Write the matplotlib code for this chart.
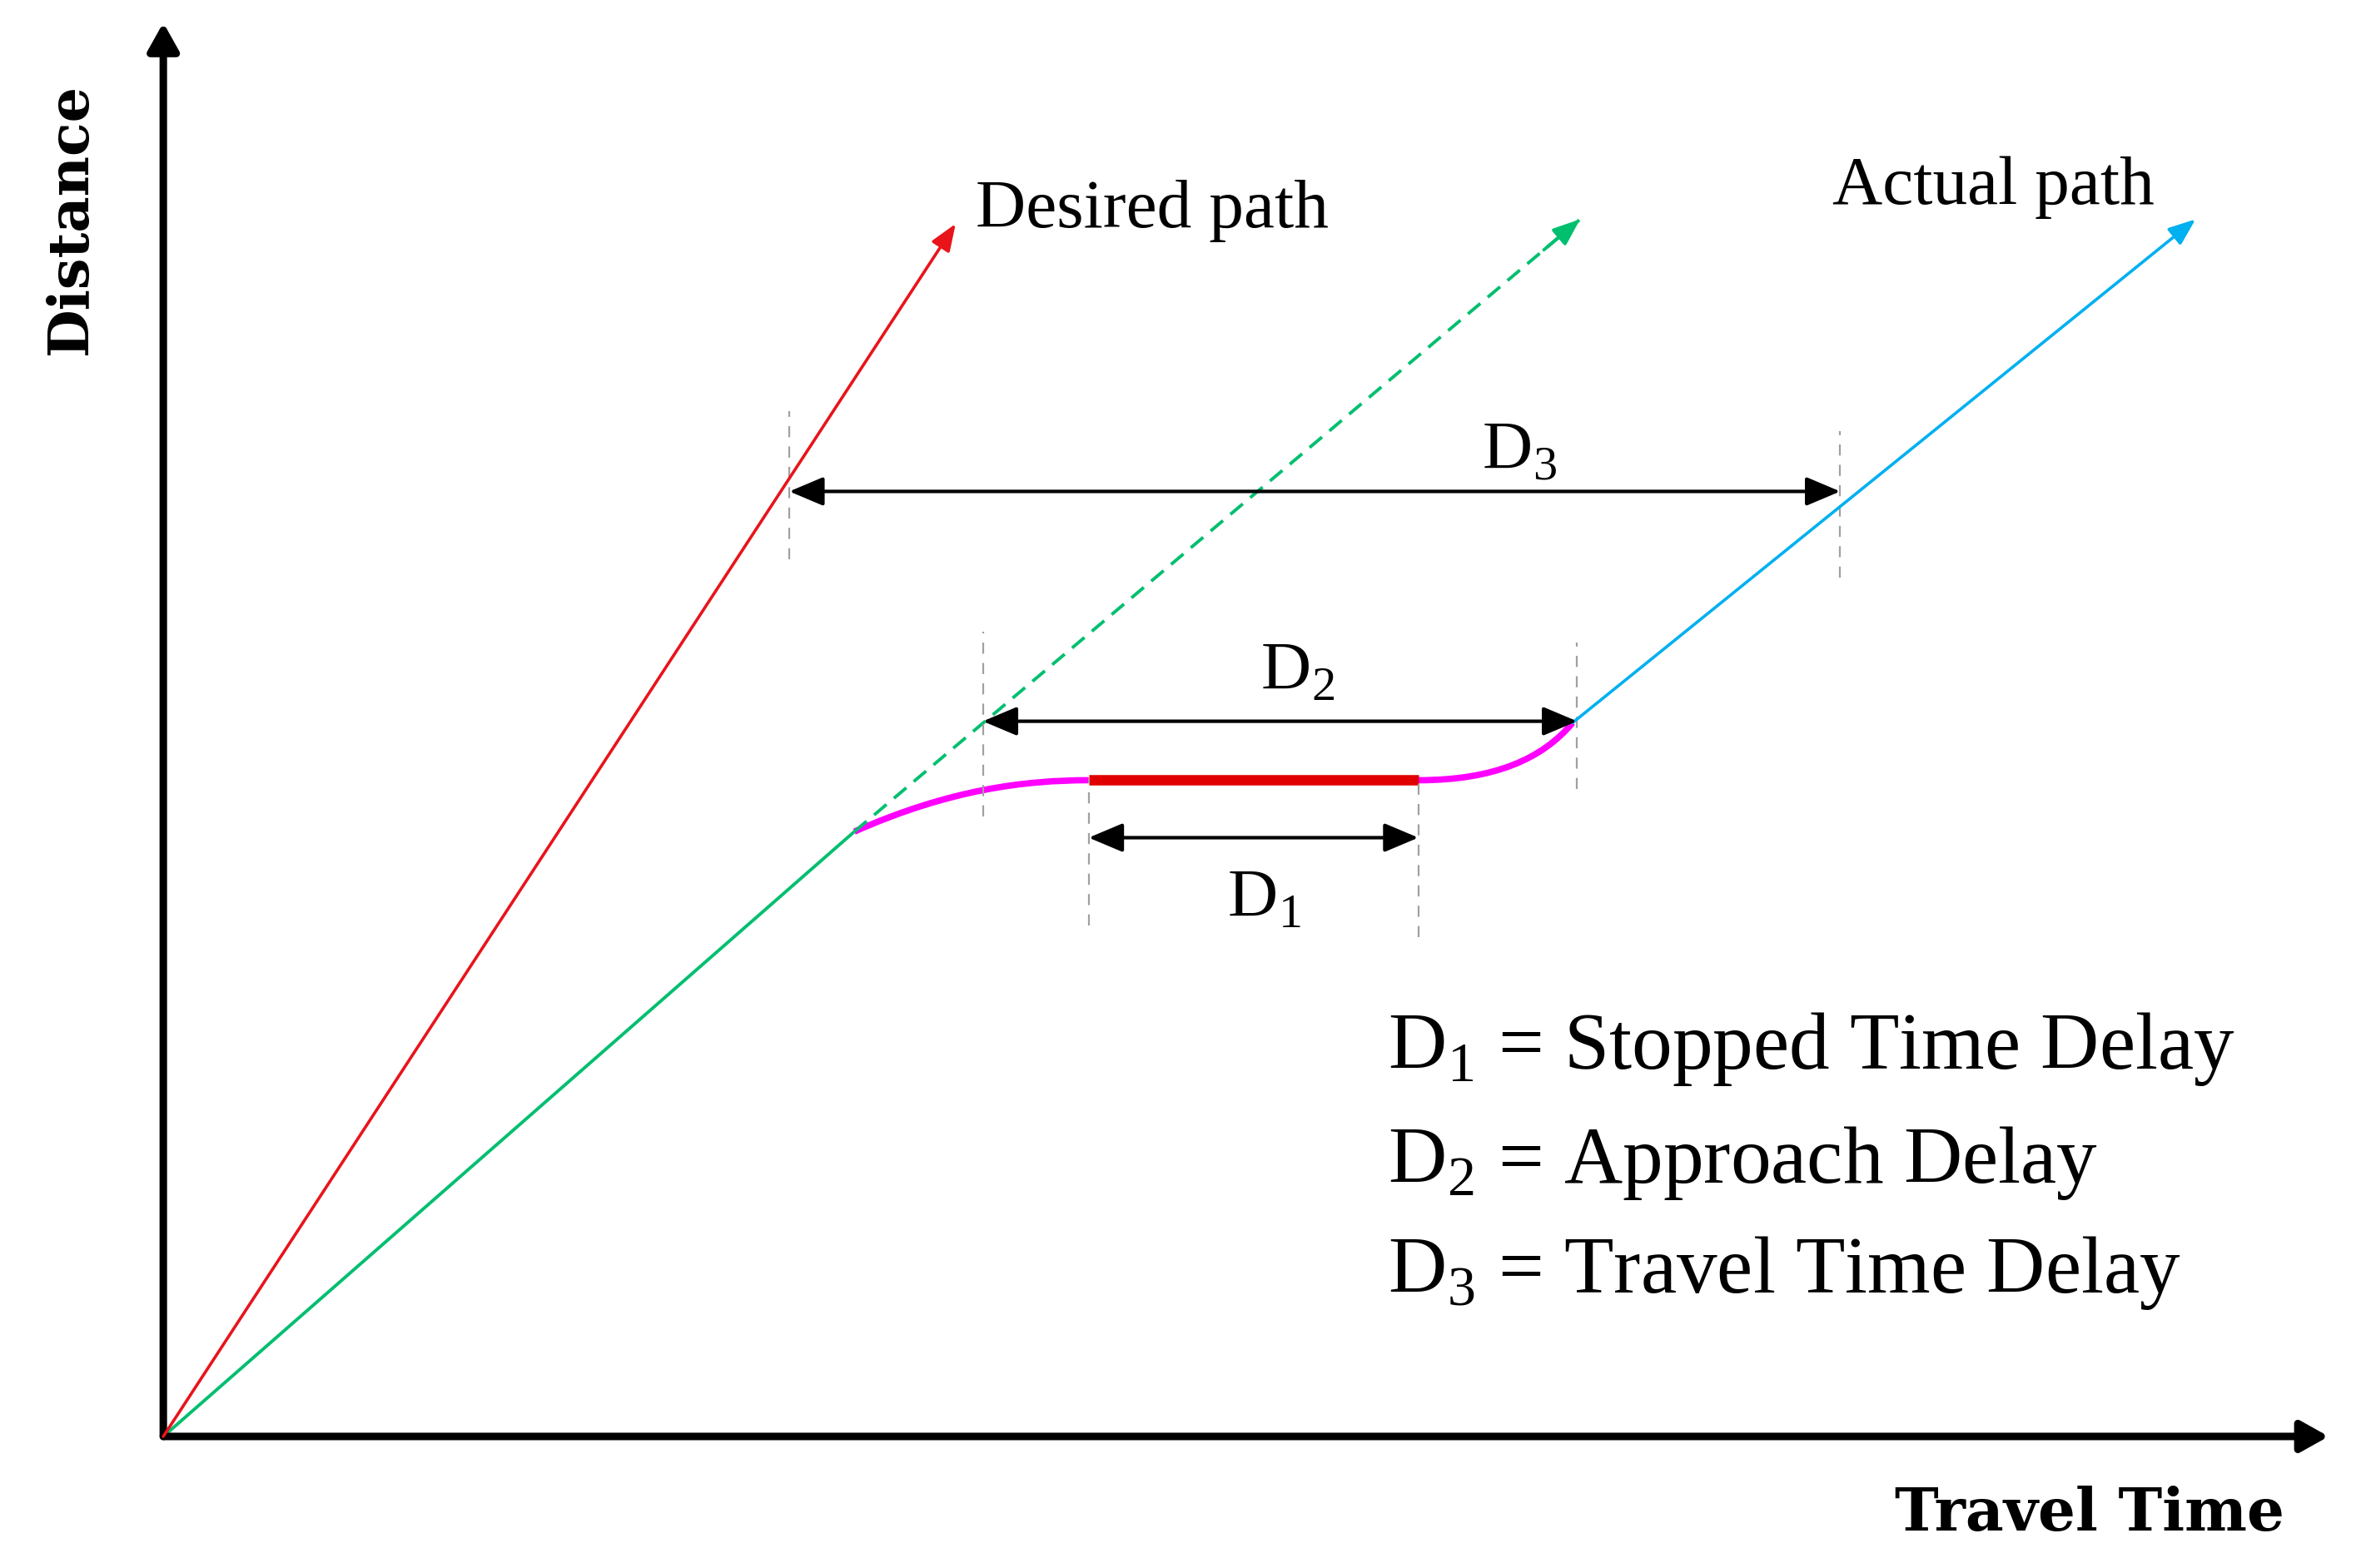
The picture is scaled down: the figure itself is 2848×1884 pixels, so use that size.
import matplotlib
matplotlib.use('Agg')
import matplotlib.pyplot as plt
from matplotlib.path import Path
from matplotlib.patches import PathPatch

plt.rcParams['font.family'] = 'Liberation Serif'
plt.rcParams['mathtext.fontset'] = 'custom'
plt.rcParams['mathtext.rm'] = 'Liberation Serif'

# diagram units: travel time on x, distance on y
axis_end_x = 1432
axis_end_y = 935

desired_x = [0, 524]
desired_y = [0, 802]

approach_x = [0, 457]
approach_y = [0, 400]

free_flow_x = [457, 937]
free_flow_y = [400, 805]

decel_x = [457, 520, 570, 612]
decel_y = [400, 428, 434, 434]

stopped_x = [612, 830]
stopped_y = [434, 434]

accel_x = [830, 880, 912, 932]
accel_y = [434, 434, 448, 472]

actual_x = [932, 1344]
actual_y = [472, 805]

# delay measures
delay_names = ['D$_3$', 'D$_2$', 'D$_1$']
delay_x0 = [414, 542, 612]
delay_x1 = [1109, 935, 830]
delay_y = [625, 473, 396]
delay_label_x = [897, 750, 728]
delay_label_y = [640, 494, 344]
# vertical guide lines
guide_x = [414, 1109, 542, 935, 612, 830]
guide_y0 = [580, 568, 410, 428, 338, 330]
guide_y1 = [678, 665, 532, 525, 434, 434]

legend_lines = ['D$_1$ = Stopped Time Delay',
                'D$_2$ = Approach Delay',
                'D$_3$ = Travel Time Delay']
legend_y = [243, 168, 95]

red = '#e8141a'
green = '#00bf6f'
cyan = '#00b0f0'
magenta = '#ff00ff'

fig = plt.figure(figsize=(28.48, 18.84), dpi=100)
ax = fig.add_axes([0, 0, 1, 1])
ax.set_xlim(-108, 1460)
ax.set_ylim(-87, 950)
ax.axis('off')


def head(x0, y0, x1, y1, color, lw, ms=22, style='-|>,head_length=0.9,head_width=0.35', ls='-'):
    ax.annotate('', xy=(x1, y1), xytext=(x0, y0),
                arrowprops=dict(arrowstyle=style, color=color, lw=lw, ls=ls,
                                mutation_scale=ms, shrinkA=0, shrinkB=0))


# axes
head(0, 0, 0, axis_end_y, 'black', 6.5, ms=40, style='-|>,head_length=0.5,head_width=0.28')
head(0, 0, axis_end_x, 0, 'black', 6.5, ms=40, style='-|>,head_length=0.5,head_width=0.28')

# desired path
head(desired_x[0], desired_y[0], desired_x[1], desired_y[1], red, 2.6)

# approach (solid) then free-flow continuation (dashed)
ax.plot(approach_x, approach_y, color=green, lw=2.8, solid_capstyle='butt')
ax.plot(free_flow_x, free_flow_y, color=green, lw=2.8, ls=(0, (5, 3)))
fx, fy = free_flow_x[1], free_flow_y[1]
dx, dy = fx - free_flow_x[0], fy - free_flow_y[0]
head(fx - 0.05 * dx, fy - 0.05 * dy, fx, fy, green, 2.8)

# deceleration / acceleration curves
for xs, ys in [(decel_x, decel_y), (accel_x, accel_y)]:
    verts = list(zip(xs, ys))
    p = Path(verts, [Path.MOVETO, Path.CURVE4, Path.CURVE4, Path.CURVE4])
    ax.add_patch(PathPatch(p, fc='none', ec=magenta, lw=5.5, capstyle='butt'))

# stopped period
ax.plot(stopped_x, stopped_y, color='#e00000', lw=9, solid_capstyle='butt')

# actual path after the stop
head(actual_x[0], actual_y[0], actual_x[1], actual_y[1], cyan, 2.6)

# guides
for gx, a, b in zip(guide_x, guide_y0, guide_y1):
    ax.plot([gx, gx], [a, b], color='#a0a0a0', lw=1.6, ls=(0, (6, 5)))

# delay arrows
for name, a, b, y, tx, ty in zip(delay_names, delay_x0, delay_x1, delay_y,
                                  delay_label_x, delay_label_y):
    head(a, y, b, y, 'black', 3.0, ms=28, style='<|-|>,head_length=0.9,head_width=0.38')
    ax.text(tx, ty, name, fontsize=60, ha='center', va='baseline')

# labels
ax.text(537, 800, 'Desired path', fontsize=60, ha='left', va='baseline')
ax.text(1104, 815, 'Actual path', fontsize=60, ha='left', va='baseline')
ax.text(-61, 805, 'Distance', fontsize=48, fontweight='bold', rotation=90,
        ha='center', va='center', family='DejaVu Serif')
ax.text(1274, -62, 'Travel Time', fontsize=51, fontweight='bold',
        ha='center', va='baseline', family='DejaVu Serif')

for s, y in zip(legend_lines, legend_y):
    ax.text(810, y, s, fontsize=70, ha='left', va='baseline')

fig.savefig('out.png', dpi=100)
